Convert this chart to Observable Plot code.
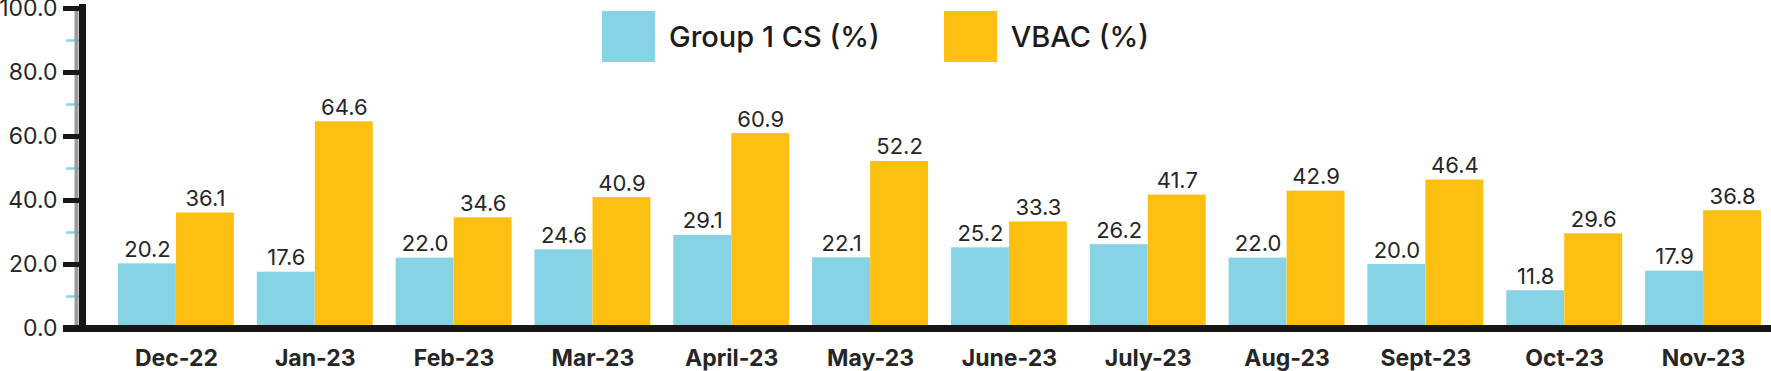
<!DOCTYPE html>
<html>
<head>
<meta charset="utf-8">
<script src="https://cdn.jsdelivr.net/npm/d3@7"></script>
<script src="https://cdn.jsdelivr.net/npm/@observablehq/plot@0.6"></script>
<style>
  html, body { margin: 0; padding: 0; background: #fff; }
  #wrap { position: relative; width: 1771px; height: 371px; font-family: Inter, "Noto Sans", sans-serif; }
  #legend { position: absolute; left: 602px; top: 11px; display: flex; align-items: center; color: #1c1c1c; font-size: 29px; font-weight: 500; }
  .item { display: flex; align-items: center; margin-right: 64px; }
  .sw { width: 53px; height: 51px; margin-right: 14px; }
</style>
</head>
<body>
<div id="wrap"></div>
<script>
const months = ["Dec-22","Jan-23","Feb-23","Mar-23","April-23","May-23","June-23","July-23","Aug-23","Sept-23","Oct-23","Nov-23"];
const group1CS = [20.2,17.6,22.0,24.6,29.1,22.1,25.2,26.2,22.0,20.0,11.8,17.9];
const vbac = [36.1,64.6,34.6,40.9,60.9,52.2,33.3,41.7,42.9,46.4,29.6,36.8];
const seriesNames = ["Group 1 CS (%)", "VBAC (%)"];
const seriesColors = ["#87d3e6", "#fdc010"];
const yTicks = [0,20,40,60,80,100];
const yMinorTicks = [10,30,50,70,90];

const csData = months.map((m,i) => ({month: m, value: group1CS[i]}));
const vbacData = months.map((m,i) => ({month: m, value: vbac[i]}));

const textColor = "#262626";
const font = "Inter, 'Noto Sans', sans-serif";

const chart = Plot.plot({
  width: 1771,
  height: 371,
  marginLeft: 82,
  marginRight: 0,
  marginTop: 8,
  marginBottom: 43,
  style: {fontFamily: font, background: "transparent", overflow: "visible"},
  x: {type: "band", domain: months, range: [118, 1761], paddingInner: 0.165, paddingOuter: 0, round: false, axis: null},
  y: {domain: [0, 100], axis: null},
  marks: [
    Plot.barY(csData, {x: "month", y: "value", fill: seriesColors[0], insetRight: 58, insetLeft: 0}),
    Plot.barY(vbacData, {x: "month", y: "value", fill: seriesColors[1], insetLeft: 58, insetRight: 0}),
    Plot.text(csData, {x: "month", y: "value", text: d => d.value.toFixed(1), dx: -29, dy: -7, lineAnchor: "bottom", fontSize: 22, fill: textColor}),
    Plot.text(vbacData, {x: "month", y: "value", text: d => d.value.toFixed(1), dx: 29, dy: -7, lineAnchor: "bottom", fontSize: 22, fill: textColor}),
    Plot.axisY({ticks: yMinorTicks, tickSize: 16, stroke: seriesColors[0], strokeWidth: 2.5, text: null, label: null}),
    Plot.frame({anchor: "left", stroke: "#9a9a9a", strokeWidth: 4, dx: -6}),
    Plot.axisY({ticks: yTicks, tickSize: 19, stroke: "#161616", strokeWidth: 5, text: null, label: null}),
    Plot.frame({anchor: "left", stroke: "#161616", strokeWidth: 7, insetTop: -1}),
    Plot.ruleY([0], {stroke: "#161616", strokeWidth: 7, insetLeft: -19}),
    Plot.text(yTicks, {y: d => d, text: d => d.toFixed(1), frameAnchor: "left", textAnchor: "end", dx: -25, fontSize: 23, fill: textColor}),
    Plot.text(months, {x: d => d, text: d => d, frameAnchor: "bottom", dy: 37, fontSize: 23, fontWeight: "bold", fill: textColor})
  ]
});

const wrap = document.getElementById("wrap");
wrap.appendChild(chart);

const legend = document.createElement("div");
legend.id = "legend";
seriesNames.forEach((name, i) => {
  const item = document.createElement("div");
  item.className = "item";
  const sw = document.createElement("div");
  sw.className = "sw";
  sw.style.background = seriesColors[i];
  const lab = document.createElement("span");
  lab.textContent = name;
  item.appendChild(sw);
  item.appendChild(lab);
  legend.appendChild(item);
});
wrap.appendChild(legend);
</script>
</body>
</html>
